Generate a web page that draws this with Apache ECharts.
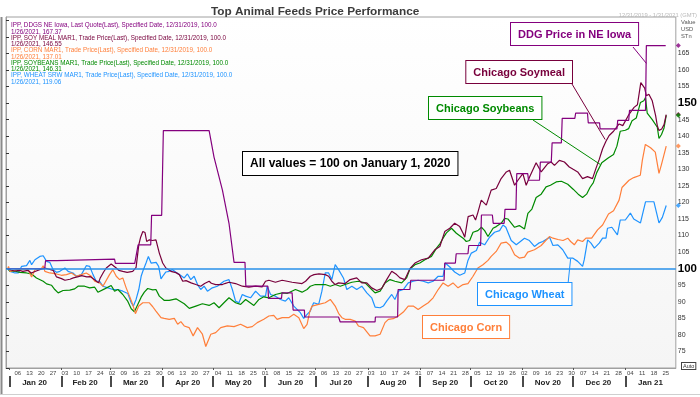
<!DOCTYPE html>
<html>
<head>
<meta charset="utf-8">
<script src="https://cdn.jsdelivr.net/npm/echarts@6/dist/echarts.min.js"></script>
<style>html,body{margin:0;padding:0;background:#fff}#c{width:700px;height:397px}</style>
</head>
<body>
<div id="c"></div>
<script>
// x values are days since Monday 2019-12-30
const seriesNames = ['DDG Price in NE Iowa', 'Chicago Soymeal', 'Chicago Corn', 'Chicago Soybeans', 'Chicago Wheat'];
const seriesColors = ['#84007e', '#78003c', '#ff7f3a', '#008a00', '#1e93ff'];

const ddg = [[1,100],[23,100],[23.5,102.4],[30,102.4],[30.5,102.9],[64.5,102.9],[65,101.6],[76.5,101.6],[78.5,107.2],[86,107.2],[86.5,116.1],[92.5,116.1],[93.5,141.7],[120.7,141.7],[123.6,133.7],[128.6,123.7],[132.5,113.7],[135.5,101.9],[142,101.9],[142.5,94.7],[155.6,94.7],[156,91],[163.7,91],[164,92.7],[170,92.7],[170.6,87.5],[177.3,87.5],[177.5,85.4],[197.6,85.4],[198.6,83.9],[219.3,83.9],[219.5,85.4],[232.7,85.4],[233,93.7],[240,93.7],[240.5,96.5],[260.3,96.5],[260.7,101.7],[267,101.7],[267.5,104.5],[274.5,104.5],[275,107],[282,107],[282.5,116.2],[289,116.2],[289.5,113.7],[296,113.7],[296.5,117.9],[303,117.9],[303.5,128.7],[310,128.7],[310.5,126.7],[317,126.7],[317.5,132.2],[324,132.2],[324.5,138],[330,138],[330.5,145.4],[338,145.4],[338.5,147],[345.5,147],[346,144],[352.7,144],[353,142.2],[363,142.2],[363.5,144.8],[370,144.8],[370.5,147.8],[380,147.8],[380.5,167.37],[392,167.37]];

const soymeal = [[1,100],[3,99.6],[5,99.3],[8,99.5],[10,99.2],[13,99.5],[15,98.7],[18,99.3],[20,99.7],[23,100.2],[26,99.8],[28,99.5],[30,97.5],[33,97],[35,96.5],[38,96.8],[40,97.2],[43,97.6],[45,97.9],[48,97.5],[50,97.6],[53,96.5],[55,95.7],[56,97.2],[58,99],[59.6,100.2],[62.5,101.4],[65.5,100.2],[67,99.5],[69.4,99.2],[72,98.9],[75.3,99.2],[77.3,100.4],[78.9,107.2],[80,109.5],[81.3,111.2],[82.6,110.9],[83.6,108.2],[85.2,108.7],[87,108.5],[89.1,108.7],[91.1,104.7],[93.1,101.7],[95,100.2],[98,99.2],[101,98.8],[103,98.2],[105,96.2],[107,96.4],[110,95.7],[112.8,95.2],[115.7,94.7],[118,95.5],[120.7,96.2],[122,95.6],[124.6,95.2],[128.6,95.2],[130,95.5],[132.5,95.9],[136.4,95.5],[140.4,94.7],[144.3,94.4],[148.3,94.7],[152.2,94.5],[154.2,96.2],[156.2,96.5],[160.1,95.9],[164.1,96.5],[170,95.9],[175.9,95.5],[178,96.2],[180.8,97.7],[183,98.2],[186,98.4],[189.7,98.2],[191.7,97.7],[193.6,96.2],[195.6,95.2],[197.6,95.7],[201.5,95.5],[204.5,96.7],[208.4,97.2],[211.4,95.7],[214.4,95.7],[217.3,94.2],[220.3,93.4],[223.2,94],[226.2,96.7],[229.2,99.2],[232.1,98.2],[234.1,97.2],[237,96.7],[240,100],[243,101.7],[246.9,102.7],[250.9,103.2],[254.8,105.7],[257.8,106.7],[260.7,111.2],[263.7,112.2],[266.6,113.7],[269.6,112.7],[271.6,110.7],[272.6,109.5],[274.6,115.7],[277.5,116.2],[279,114.7],[280.4,117],[282.4,120.7],[285.4,119.2],[288.3,123.7],[291.3,124.2],[294.2,127.2],[297.3,129.2],[299.2,129.7],[302.2,125.2],[304.2,126.7],[307.1,128.7],[309.1,125.2],[311.1,127.7],[315,132],[318,129.2],[321.9,131.7],[323.9,132.2],[325.9,131.2],[328.8,132.7],[331.8,132.2],[334.7,130.7],[337,130],[339.7,129.2],[342.6,127.2],[345.5,127.8],[348.5,127.2],[350.5,130.2],[352.5,133],[354.5,136.2],[356.5,138.5],[358.4,140.2],[361,141.5],[364.3,143.7],[366.5,143.2],[370.3,146.7],[373.2,148.7],[375.2,149.5],[377.2,156.2],[378.1,156.7],[379.5,154.5],[380.5,152.2],[382,152.7],[384,150.7],[386,146.2],[387,143.2],[388,141.7],[389.6,142.2],[391,143.5],[392.3,146.55]];

const corn = [[1,100],[1.5,100.7],[2.4,99.2],[6.3,99.7],[10.3,99.9],[13.2,99.7],[15.2,97.5],[17.2,99.7],[21.1,100],[22.1,100.9],[23.1,99.2],[26,98.7],[30,98.4],[32.9,98],[35.9,98.2],[38.9,98.7],[41.8,97.7],[44.8,98.2],[47.7,98.7],[50.7,97.7],[52.7,96.2],[55.6,95.7],[57.6,94.7],[58.6,95.2],[61.5,98.2],[63.5,99.7],[65.5,97.7],[67.5,96.7],[69.4,97.2],[71.4,94.2],[73.4,91.7],[75.3,89.2],[76.9,86.4],[78.9,88.7],[81.3,89.7],[85.2,89.7],[87.2,88.5],[89.1,87.2],[92.1,85.2],[94,85],[97,84.7],[100,85],[102,83.2],[103.9,84],[105.9,82.7],[108.8,82.2],[111.2,79.7],[113.8,82.2],[116.7,80.2],[118.7,76.5],[121.7,80.2],[124.6,80.7],[127.6,82.2],[131.5,82.7],[135.5,82.5],[139.4,83.2],[143.4,82.2],[146.3,82.5],[149.3,83.7],[153.2,84.7],[156.2,85.7],[159.1,85.9],[161.1,84.7],[164.1,85.2],[168,85.2],[171,86.2],[174,85.2],[176.9,81.9],[178.9,83.2],[180.5,87],[181.8,88.7],[185.8,89.2],[189.7,89.7],[192.7,90.7],[195.6,88.7],[197.6,86.5],[199.6,85.2],[201.5,84.7],[204.5,84.7],[207.5,84.2],[209.4,82.7],[212.4,82.2],[216.3,79.7],[219.3,79.7],[222.3,80.2],[225.2,83.7],[227.2,84.7],[230.1,84.9],[233.1,85.7],[236.1,86.9],[239,88.7],[242,88.7],[244.9,87.7],[247.9,88.7],[250.9,89.7],[253.8,91.2],[256.8,93.7],[259.7,95.7],[262.7,94.7],[265.6,95.7],[268.6,94.2],[271.6,95.2],[274.5,95.5],[277.5,97.7],[280.4,100.2],[283.4,101.2],[286.4,102.5],[288.3,103.7],[291.3,105.2],[294.2,107.7],[297.3,108],[299.5,107],[302.2,104.2],[305,103.2],[308.1,103.5],[310,105],[314,105.7],[318,107],[322.9,109.7],[325,109.2],[328,108.8],[331,108.5],[333.8,109.2],[335.5,108.2],[337.7,107.2],[339.7,108.7],[342.6,108.2],[344.6,109.2],[348,109.2],[351.5,111.7],[354.5,113.2],[358,116.5],[361,117.5],[364.3,120.7],[366,124.5],[370.2,126.7],[373,127.5],[376.9,128.2],[378.1,132.7],[379.9,137.5],[383,136.5],[385.8,135.2],[388,128.8],[389.5,131.5],[392.3,137.01]];

const soybeans = [[1,100],[2.4,99.2],[5,99.3],[8.3,98.9],[12.2,98.7],[15.2,98.4],[18.1,97.2],[22.1,96.2],[24.1,95.4],[27,95],[29,93.7],[31,92.7],[33.9,93.4],[37.9,93.5],[40.8,93.9],[42.8,94.7],[46.7,94.7],[49.7,94.2],[52.7,94.4],[54.6,92.9],[58.6,93.9],[62.5,94.9],[64.5,93.2],[66.5,93.7],[69.4,92.2],[72.4,90.1],[74.4,87.9],[76.3,87],[77.3,86.8],[78.3,89.2],[80.3,91.4],[82.2,92.9],[84.2,94],[87.2,93.6],[89.1,93.7],[91.1,91.7],[94.1,90.4],[97,90.4],[101,90.9],[105.9,89.4],[108.9,88],[109.8,87.4],[112.8,88.7],[116.7,89.4],[120.7,88.9],[123.6,89.7],[126.6,88.2],[129.5,89.7],[132.5,91.2],[136.4,89.7],[139.4,89.2],[142.4,90.7],[147.3,88.9],[150.3,90.7],[153.2,91.5],[156.2,91.2],[160.1,92.2],[164.1,92.7],[167,92.5],[172,93.7],[175.9,92.9],[178.9,93.7],[180.8,94.7],[183.8,95.2],[189.7,95.2],[192.7,94.7],[195.6,95.2],[198.6,94.7],[201.5,95.2],[205.5,95.9],[209.4,96.2],[213.4,95.7],[217.3,93.7],[219.3,92.7],[222.3,93.2],[225.2,95.7],[228.2,96.7],[231.1,96.2],[235.1,95.7],[238,97.2],[240,99.9],[243,101.2],[245.9,101.7],[248.9,102.7],[252.8,103.7],[255.8,106.2],[257.8,107.5],[259.7,109.2],[261.7,110.8],[264.7,112.2],[267.6,110.7],[271.6,109.2],[273.5,108.2],[275.5,108.5],[277.5,111],[280.4,111.5],[282.5,112.5],[284.4,111.5],[286.4,109.7],[289.4,112.2],[291.3,112.7],[294.2,113.7],[296.3,115.2],[298.2,115],[302.2,112.5],[305,113],[308.1,112],[310.1,116.7],[312.5,118],[315,121.5],[318,122.5],[320.9,124.7],[323.5,125.2],[326.9,126.2],[330,126.4],[333.8,125.5],[337,124],[340,122.5],[342.6,121.5],[345,122.5],[347,124.5],[349,126],[351,129],[354,132],[358,133.5],[361,134.5],[363,137],[365,141.5],[368,141.8],[370,142.3],[372,144.7],[374.5,145.5],[377,150.2],[379,150.7],[380,151.7],[381,147],[384,145],[387,142.7],[388,139.3],[389.5,140.5],[391,142.5],[392.3,146.31]];

const wheat = [[1,100],[2.4,99.2],[5.3,98.7],[7.3,98.7],[9.3,100.7],[12.2,100.9],[14.2,102.5],[15.2,101.2],[17.2,102.7],[20.1,103.7],[22.1,103.9],[24.1,102.2],[26,101.9],[28,99.7],[30,98.9],[32,99.2],[35,100.2],[36.9,99.2],[39.8,98.7],[41.8,97.7],[44.8,98.2],[47.7,100.9],[49.7,100.7],[51.7,98.2],[53.6,96.2],[55.6,96.2],[57.6,94.7],[60.6,94.2],[63.5,93.7],[66.5,93.7],[69.4,93.2],[72.4,92.5],[74.4,89.7],[75.7,88.7],[77.3,90.7],[78.9,93.7],[80.3,97.7],[81.3,99.2],[83.2,101.7],[84.6,103.7],[86.2,101.7],[89.2,101.9],[90.7,100.7],[92.1,96.9],[93.5,98],[95,99],[97,99.2],[99,99.7],[101,98.9],[103.9,97.9],[105.9,97.2],[107.8,98.4],[109.8,96.7],[111.8,97.7],[113.8,95.2],[115.7,93.7],[117.7,94.7],[119.7,93.2],[122.6,94.2],[125.6,94.7],[129.5,96.2],[132.5,96.7],[134.5,93.7],[136.4,90.2],[138.4,89.7],[140.4,92.2],[142.4,91.7],[145.3,91.2],[148.3,93.2],[151.2,91.7],[154.2,91.7],[155.2,94.7],[157.2,92.2],[160.1,91.7],[163.1,90.7],[166,90.2],[168,91.2],[171,88.7],[174.9,86.7],[176.9,85],[178.9,86.2],[180.8,87.2],[182.8,89.7],[185.8,89.2],[187.7,93.2],[189.7,98.7],[191.7,98.7],[193.6,96.7],[195.6,101.2],[197.6,99.7],[200.5,97.2],[202.5,93.7],[205.5,94.7],[208.4,93.7],[211.4,94.7],[214.4,92.7],[217.3,91.2],[219.3,88.4],[222.3,88.2],[224.2,88.7],[226.2,90.2],[229.2,92.2],[231.1,90.7],[233.1,93.2],[236.1,93.7],[239,95.7],[242,96.2],[244.9,96.5],[247.9,96.2],[250.9,95.7],[253.8,96.2],[256.8,97.7],[259.7,97.7],[261,101.7],[263.7,100.5],[266.6,99],[269.6,98],[272.6,98.7],[274.5,102.5],[276.5,104.7],[279.5,105.5],[281.4,108],[284.4,107.2],[287.3,109.5],[290.3,111],[293.3,111.5],[295.3,113.2],[297,112.5],[300.2,108.5],[303.2,107.2],[308.1,109.2],[311,108.5],[314,106.7],[316.5,107.7],[319,108.2],[323,109.5],[325,107],[327.9,107.2],[330.8,105.7],[333.8,103.2],[336.7,103.2],[339.7,102.2],[342.6,100.7],[343.6,102.7],[344.6,105.7],[345.6,108.7],[347.6,107.7],[349.6,106.2],[352.5,107.7],[354.5,109.2],[356.5,109.2],[357.4,112.2],[360,112.5],[363.3,110.2],[365,114.7],[368,114.7],[371,116.8],[373,115],[377,113.8],[378.5,117],[380,120.2],[385,120.2],[386.5,117],[388,113.8],[390,115.5],[392.3,119.06]];

const allSeries = [ddg, soymeal, corn, soybeans, wheat];

const legendLines = [
  ['IPP, DDGS NE Iowa, Last Quote(Last), Specified Date, 12/31/2019, 100.0', '1/26/2021, 167.37'],
  ['IPP, SOY MEAL MAR1, Trade Price(Last), Specified Date, 12/31/2019, 100.0', '1/26/2021, 146.55'],
  ['IPP, CORN MAR1, Trade Price(Last), Specified Date, 12/31/2019, 100.0', '1/26/2021, 137.01'],
  ['IPP, SOYBEANS MAR1, Trade Price(Last), Specified Date, 12/31/2019, 100.0', '1/26/2021, 146.31'],
  ['IPP, WHEAT SRW MAR1, Trade Price(Last), Specified Date, 12/31/2019, 100.0', '1/26/2021, 119.06']
];

const monthNames = ['Jan 20','Feb 20','Mar 20','Apr 20','May 20','Jun 20','Jul 20','Aug 20','Sep 20','Oct 20','Nov 20','Dec 20','Jan 21'];
const monthStarts = [2, 33, 62, 93, 123, 154, 184, 215, 246, 276, 307, 337, 368];
const monthMids = [17, 47, 77, 108, 138, 169, 199, 230, 261, 291, 322, 352, 383];
const yBigLabels = [100, 150];
const baseline = 100;
const xMin = 0, xMax = 398;
const yMin = 70, yMax = 176;

const START = Date.UTC(2019, 11, 30);
function dayOfMonth(v) {
  const d = new Date(START + Math.round(v) * 86400000);
  const n = d.getUTCDate();
  return (n < 10 ? '0' : '') + n;
}

const FONT = 'Liberation Sans, Arial, sans-serif';
const chart = echarts.init(document.getElementById('c'), null, {renderer: 'canvas'});

const lineSeries = allSeries.map((d, i) => ({
  name: seriesNames[i],
  type: 'line',
  data: d,
  showSymbol: false,
  symbol: 'none',
  z: 3 + (4 - i) * 0.1,
  lineStyle: {color: seriesColors[i], width: 1.2},
  itemStyle: {color: seriesColors[i]},
  markLine: i === 4 ? {
    silent: true, symbol: 'none', label: {show: false},
    lineStyle: {color: '#2891ea', width: 1.5, type: 'solid'},
    data: [{yAxis: baseline}]
  } : undefined
}));

const endMarkers = {
  type: 'scatter',
  clip: false,
  symbol: 'diamond',
  symbolSize: 5,
  z: 6,
  data: allSeries.map((d, i) => ({value: [xMax + 1.5, d[d.length - 1][1]], itemStyle: {color: seriesColors[i]}}))
};

const option = {
  animation: false,
  backgroundColor: '#ffffff',
  title: {
    text: 'Top Animal Feeds Price Performance',
    left: 206, top: 1,
    textStyle: {fontFamily: FONT, fontSize: 11.8, fontWeight: 'bold', color: '#3c3c3c'}
  },
  grid: {
    left: 6, right: 24, top: 17, bottom: 29,
    show: true, borderColor: '#a0a0a0', borderWidth: 1,
    backgroundColor: {type: 'linear', x: 0, y: 0, x2: 0, y2: 1,
      colorStops: [{offset: 0, color: '#ffffff'}, {offset: 1, color: '#f5f5f5'}]}
  },
  xAxis: [{
    type: 'value', min: xMin, max: xMax, interval: 7,
    position: 'bottom',
    axisLine: {show: true, lineStyle: {color: '#a0a0a0'}},
    axisTick: {show: true, customValues: monthStarts, length: 2, inside: false, lineStyle: {color: '#555'}},
    splitLine: {show: false},
    axisLabel: {
      show: true, margin: 2, fontSize: 6, color: '#444', fontFamily: FONT,
      showMinLabel: false, showMaxLabel: false,
      formatter: v => (v % 7 === 0 && v > 0) ? dayOfMonth(v) : ''
    }
  }, {
    type: 'value', min: xMin, max: xMax,
    position: 'bottom', offset: 8,
    axisLine: {show: false},
    axisTick: {show: true, customValues: monthStarts, length: 11, inside: false, lineStyle: {color: '#111', width: 1.5}},
    splitLine: {show: false},
    axisLabel: {
      show: true, customValues: monthMids, margin: 3, fontSize: 8, fontWeight: 'bold',
      color: '#222', fontFamily: FONT,
      formatter: v => monthNames[monthMids.indexOf(v)] || ''
    }
  }],
  yAxis: {
    type: 'value', min: yMin, max: yMax, interval: 5, position: 'right',
    axisLine: {show: true, lineStyle: {color: '#a0a0a0'}},
    axisTick: {show: true, length: 3, lineStyle: {color: '#333'}},
    splitLine: {show: false},
    axisLabel: {
      margin: 2, fontSize: 7, color: '#333', fontFamily: FONT,
      showMaxLabel: false,
      formatter: v => {
        if (v < 75 || v > 165) return '';
        if (yBigLabels.indexOf(v) >= 0) return '{big|' + v + '}';
        return String(v);
      },
      rich: {big: {fontSize: 11.5, fontWeight: 'bold', color: '#000', fontFamily: FONT}}
    }
  },
  series: lineSeries.concat([endMarkers])
};

chart.setOption(option);

// annotations
const px = (d, v) => chart.convertToPixel({xAxisIndex: 0, yAxisIndex: 0}, [d, v]);
const graphics = [];

legendLines.forEach((pair, i) => {
  graphics.push({
    type: 'text', z: 10,
    style: {text: pair.join('\n'), x: 11, y: 22 + i * 12.6, fill: seriesColors[i],
      font: '6.3px ' + FONT, lineHeight: 6.6, textVerticalAlign: 'top'}
  });
});

function box(text, x, y, color, size, align) {
  graphics.push({
    type: 'text', z: 20,
    style: {text: text, x: x, y: y, fill: color, font: 'bold ' + size + 'px ' + FONT,
      textAlign: align || 'left', textVerticalAlign: 'top',
      backgroundColor: '#ffffff', borderColor: color, borderWidth: 1, padding: [6, 7, 5, 7]}
  });
}
function leader(x1, y1, pt, color) {
  graphics.push({type: 'line', z: 19, shape: {x1: x1, y1: y1, x2: pt[0], y2: pt[1]},
    style: {stroke: color, lineWidth: 1}});
}

leader(633, 47, px(380.5, 162), seriesColors[0]);
leader(572, 84, px(356, 139), seriesColors[1]);
leader(533, 120, px(353, 131.5), seriesColors[3]);
leader(568, 284, px(335.5, 103), seriesColors[4]);

box('DDG Price in NE Iowa', 511, 23, seriesColors[0], 11);
box('Chicago Soymeal', 572, 61, seriesColors[1], 11, 'right');
box('Chicago Soybeans', 429, 97, seriesColors[3], 11);
box('All values = 100 on January 1, 2020', 243, 152, '#000000', 12);
box('Chicago Wheat', 478, 283, seriesColors[4], 11);
box('Chicago Corn', 423, 316, seriesColors[2], 11);

graphics.push({type: 'text', z: 10, style: {text: '12/31/2019 - 1/31/2021 (GMT)', x: 697, y: 12,
  textAlign: 'right', fill: '#b8b8b8', font: '5.8px ' + FONT}});
graphics.push({type: 'text', z: 10, style: {text: 'Value\nUSD\nSTn', x: 681, y: 19,
  fill: '#555', font: '5.8px ' + FONT, lineHeight: 7}});
graphics.push({type: 'text', z: 10, style: {text: 'Auto', x: 682, y: 363,
  fill: '#333', font: '5.5px ' + FONT, borderColor: '#444', borderWidth: 1, padding: [0, 1, 0, 1],
  backgroundColor: '#fff'}});
graphics.push({type: 'line', z: 10, shape: {x1: 1.5, y1: 17, x2: 1.5, y2: 394},
  style: {stroke: '#8a8a8a', lineWidth: 2}});
graphics.push({type: 'line', z: 10, shape: {x1: 0, y1: 394.5, x2: 700, y2: 394.5},
  style: {stroke: '#cfcfcf', lineWidth: 1}});

chart.setOption({graphic: graphics});
</script>
</body>
</html>
